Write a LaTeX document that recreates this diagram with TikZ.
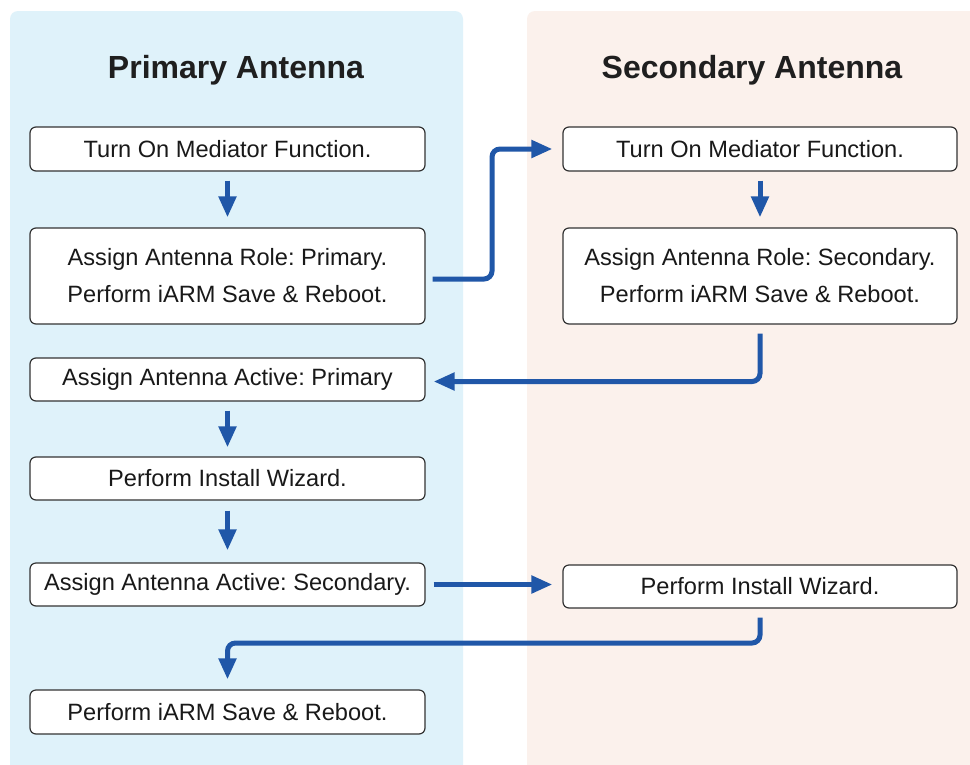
\documentclass[tikz,border=0pt]{standalone}
\usepackage{fontspec}
\setmainfont{Liberation Sans}
\frenchspacing
\usetikzlibrary{arrows.meta}
\definecolor{panelL}{HTML}{DFF2FA}
\definecolor{panelR}{HTML}{FBF1EC}
\definecolor{arrblue}{HTML}{2057A8}
\definecolor{boxline}{HTML}{333333}
\tikzset{
  stepbox/.style={draw=boxline, line width=1.2pt, fill=white, rounded corners=6pt,
    inner sep=0pt, align=center, font=\fontsize{23.6}{37}\selectfont, text=black!90},
  lbox/.style={stepbox, minimum width=395pt},
  rbox/.style={stepbox, minimum width=394pt},
  arr/.style={draw=arrblue, line width=5pt, rounded corners=8pt,
    -{Triangle[length=21pt,width=17pt]}},
  title/.style={font=\fontsize{32}{36}\selectfont\bfseries, text=black!88},
}
\begin{document}
\begin{tikzpicture}[x=1pt,y=-1pt]
\clip (0,0) rectangle (970,764);
\fill[white] (0,0) rectangle (970,764);
\fill[panelL, rounded corners=8pt] (10,11) rectangle (463,800);
\fill[panelR, rounded corners=8pt] (527,11) rectangle (985,800);
\node[title] (tl) at (236,70) {Primary Antenna};
\node[title] (tr) at (752,70) {Secondary Antenna};
% left column
\node[lbox, minimum height=44pt] (b1) at (227.5,149) {Turn On Mediator Function.};
\node[lbox, minimum height=96pt] (b2) at (227.5,276) {Assign Antenna Role: Primary.\\Perform iARM Save \& Reboot.};
\node[lbox, minimum height=43pt] (b3) at (227.5,379.5) {Assign Antenna Active: Primary};
\node[lbox, minimum height=43pt] (b4) at (227.5,478.5) {Perform Install Wizard.};
\node[lbox, minimum height=43pt] (b5) at (227.5,584.5) {Assign Antenna Active: Secondary.};
\node[lbox, minimum height=44pt] (b6) at (227.5,712) {Perform iARM Save \& Reboot.};
% right column
\node[rbox, minimum height=44pt] (r1) at (760,149) {Turn On Mediator Function.};
\node[rbox, minimum height=96pt] (r2) at (760,276) {Assign Antenna Role: Secondary.\\Perform iARM Save \& Reboot.};
\node[rbox, minimum height=43pt] (r3) at (760,586.5) {Perform Install Wizard.};
% helper coordinates
\coordinate (m1) at (492,210);
\coordinate (m2) at (400,643);
% connectors
\draw[arr, shorten <=9pt, shorten >=10pt] (b1) -- (b2);
\draw[arr, shorten <=9pt, shorten >=9pt] (b3) -- (b4);
\draw[arr, shorten <=10pt, shorten >=12pt] (b4) -- (b5);
\draw[arr, shorten <=9pt, shorten >=10pt] (r1) -- (r2);
\draw[arr, shorten <=7pt, shorten >=10pt] ([yshift=-3pt]b2.east) -| (m1) |- (r1.west);
\draw[arr, shorten <=9pt, shorten >=8pt] (r2.south) |- ([yshift=-2pt]b3.east);
\draw[arr, shorten <=8pt, shorten >=10pt] (b5.east) -- (b5.east -| r3.west);
\draw[arr, shorten <=9pt, shorten >=10pt] (r3.south) |- (m2) -| (b6.north);
\end{tikzpicture}
\end{document}
